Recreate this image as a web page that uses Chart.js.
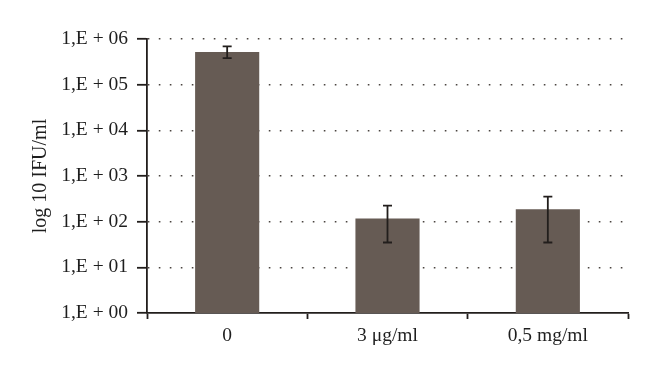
<!DOCTYPE html>
<html>
<head>
<meta charset="utf-8">
<script src="https://cdn.jsdelivr.net/npm/chart.js@4/dist/chart.umd.min.js"></script>
<style>
html,body{margin:0;padding:0;background:#fff;}
#wrap{width:660px;height:379px;position:relative;}
</style>
</head>
<body>
<div id="wrap"><canvas id="c" width="660" height="379"></canvas></div>
<script>
const categories = ['0', '3 \u03bcg/ml', '0,5 mg/ml'];
const values = [520000, 118, 187];
const errLow = [380000, 35, 35];
const errHigh = [690000, 224, 352];
const tickValues = [1, 10, 100, 1000, 10000, 100000, 1000000];
const tickLabels = ['1,E + 00', '1,E + 01', '1,E + 02', '1,E + 03', '1,E + 04', '1,E + 05', '1,E + 06'];
const yTitle = 'log 10 IFU/ml';

const SERIF = '"Liberation Serif", "DejaVu Serif", serif';

const errorBars = {
  id: 'errorBars',
  afterDatasetsDraw(chart) {
    const ctx = chart.ctx;
    const meta = chart.getDatasetMeta(0);
    const y = chart.scales.y;
    ctx.save();
    ctx.strokeStyle = '#221e1c';
    ctx.lineWidth = 1.8;
    meta.data.forEach((bar, i) => {
      const x = bar.x;
      const yl = y.getPixelForValue(errLow[i]);
      const yh = y.getPixelForValue(errHigh[i]);
      ctx.beginPath();
      ctx.moveTo(x, yl); ctx.lineTo(x, yh);
      ctx.moveTo(x - 4.5, yl); ctx.lineTo(x + 4.5, yl);
      ctx.moveTo(x - 4.5, yh); ctx.lineTo(x + 4.5, yh);
      ctx.stroke();
    });
    ctx.restore();
  }
};

new Chart(document.getElementById('c'), {
  type: 'bar',
  data: {
    labels: categories,
    datasets: [{
      data: values,
      backgroundColor: '#665b54',
      borderWidth: 0,
      barPercentage: 0.4,
      categoryPercentage: 1.0
    }]
  },
  options: {
    responsive: false,
    animation: false,
    layout: { padding: { left: 0, right: 32, top: 39, bottom: 0 } },
    plugins: { legend: { display: false }, tooltip: { enabled: false } },
    scales: {
      x: {
        offset: true,
        grid: {
          offset: true,
          drawOnChartArea: false,
          drawTicks: true,
          tickLength: 6,
          tickColor: '#221e1c',
          tickWidth: 1.8
        },
        border: { display: true, color: '#221e1c', width: 1.8 },
        ticks: {
          color: '#1e1e1e',
          padding: 5,
          font: { family: SERIF, size: 19.5 }
        },
        afterFit(scale) { scale.height = 379 - 313; }
      },
      y: {
        type: 'logarithmic',
        min: 1,
        max: 1000000,
        afterBuildTicks(scale) {
          scale.ticks = tickValues.map(v => ({ value: v }));
        },
        afterFit(scale) { scale.width = 147; },
        ticks: {
          color: '#1e1e1e',
          padding: 9,
          autoSkip: false,
          font: { family: SERIF, size: 19.5 },
          callback(value) {
            const i = tickValues.indexOf(value);
            return i >= 0 ? tickLabels[i] : '';
          }
        },
        grid: {
          color: (ctx) => (ctx.tick && ctx.tick.value === 1) ? 'rgba(0,0,0,0)' : '#4a4440',
          lineWidth: 1.6,
          drawTicks: true,
          tickLength: 10,
          tickColor: '#221e1c',
          tickWidth: 1.8,
          tickBorderDash: []
        },
        border: { display: true, color: '#221e1c', width: 1.8, dash: [1.6, 9.4], dashOffset: 0 },
        title: {
          display: true,
          text: yTitle,
          color: '#1e1e1e',
          font: { family: SERIF, size: 20 },
          padding: { top: 29, bottom: 0 }
        }
      }
    }
  },
  plugins: [errorBars]
});
</script>
</body>
</html>
